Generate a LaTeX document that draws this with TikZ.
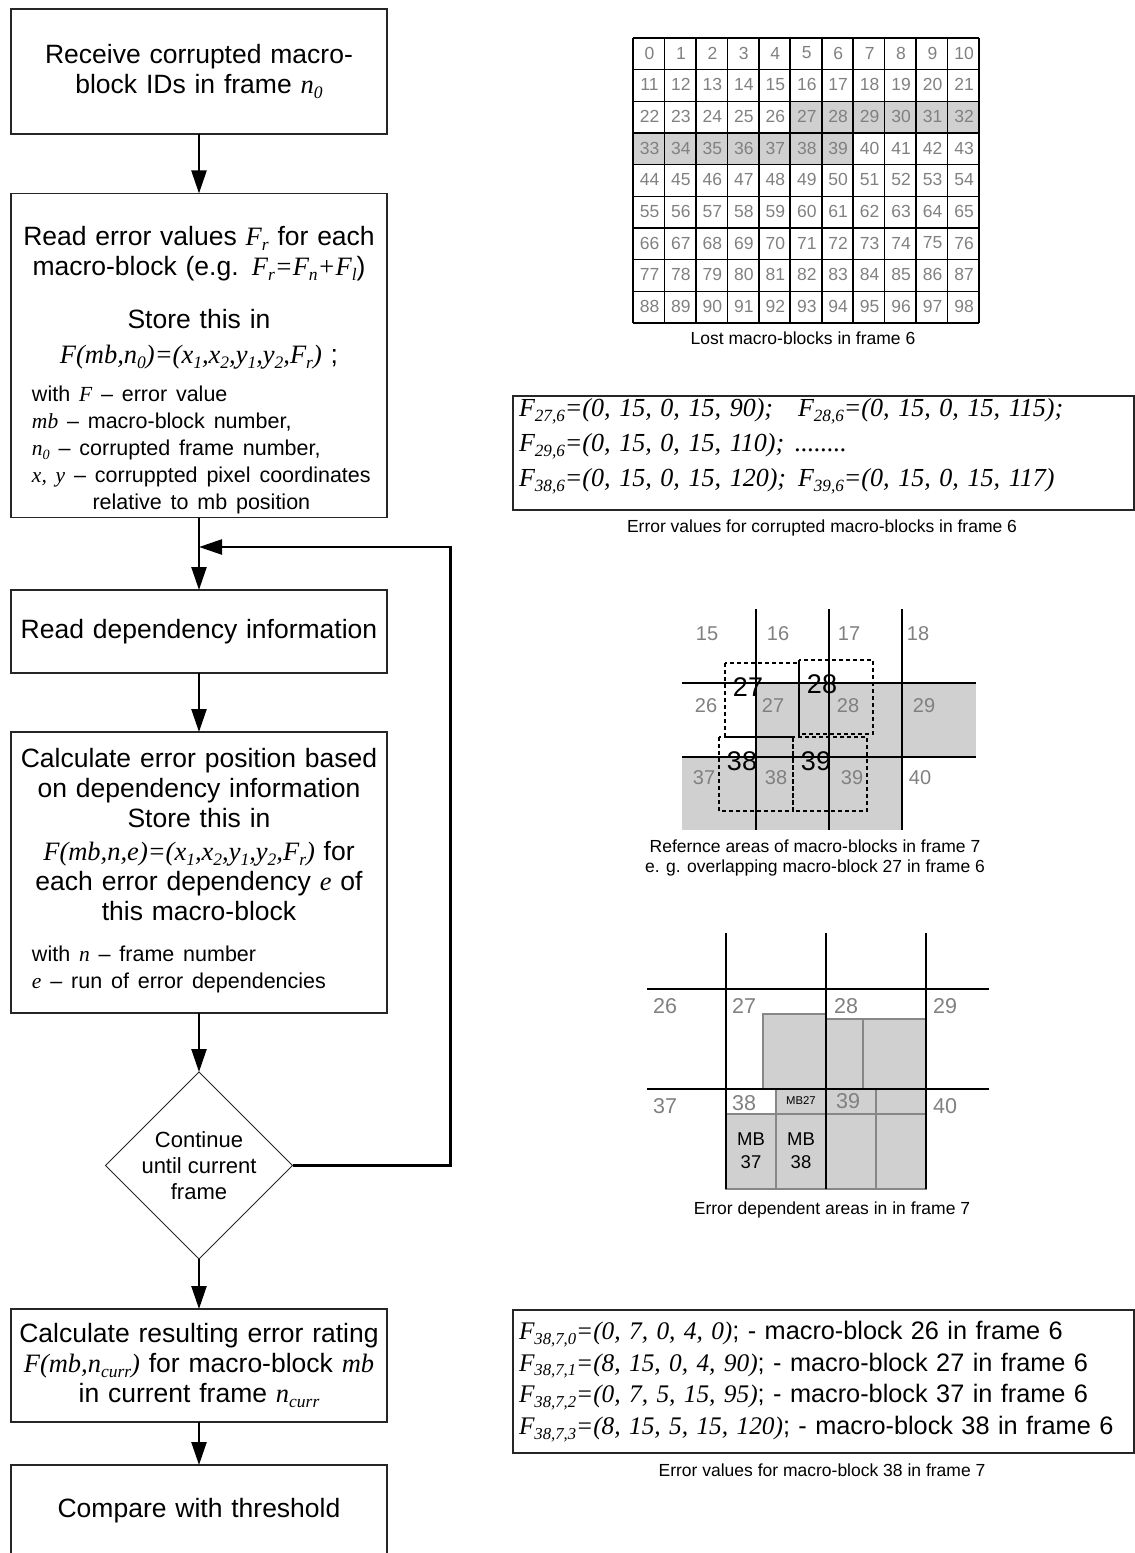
\documentclass[tikz,border=0pt]{standalone}
\usepackage{graphicx}
\usepackage{fontspec}
\setmainfont{Liberation Sans}
\newfontfamily\tms{Liberation Serif}
\usetikzlibrary{arrows.meta,shapes.geometric}
\definecolor{cellgray}{RGB}{208,208,208}
\definecolor{numgray}{RGB}{128,128,128}
\definecolor{edgegray}{RGB}{135,135,135}
\newcommand{\mvar}[1]{{\tms\itshape #1}}
\newcommand{\msub}[1]{\raisebox{-0.18em}{\scalebox{0.66}{#1}}}

\begin{document}
\begin{tikzpicture}[x=1pt, y=-1pt,
    box/.style={draw=black!85, line width=1.1pt, fill=white, minimum width=376pt, text width=360pt, align=center, inner sep=0pt, outer sep=0pt, font=\fontsize{26.5}{30}\selectfont},
    dec/.style={diamond, aspect=1, draw=black!85, line width=0.9pt, minimum width=187pt, minimum height=187pt, inner sep=0pt, outer sep=0pt, align=center, font=\fontsize{22}{26}\selectfont},
    arr/.style={line width=2.4pt, -{Triangle[length=23pt,width=15pt]}},
    gl/.style={line width=1.6pt, black},
    num/.style={text=numgray, font=\fontsize{17.5}{20}\selectfont, inner sep=0pt},
    rnum/.style={text=numgray, font=\fontsize{20}{22}\selectfont, inner sep=0pt},
    enum/.style={text=numgray, font=\fontsize{21.5}{24}\selectfont, inner sep=0pt},
    blab/.style={font=\fontsize{27}{30}\selectfont, inner sep=0pt},
    mbl/.style={align=center, font=\fontsize{18.5}{23}\selectfont, inner sep=0pt},
    dbox/.style={line width=1.3pt, dash pattern=on 4pt off 3pt},
    ebox/.style={draw=edgegray, fill=cellgray, line width=1.4pt},
    capt/.style={align=center, font=\fontsize{17.5}{20.5}\selectfont, inner sep=0pt},
    fbox/.style={draw=black!85, line width=1.1pt, anchor=north west, inner xsep=6pt, inner ysep=0pt, outer sep=0pt, text width=609pt, align=left, minimum height=#1, font=\fontsize{26}{35}\selectfont}]
  \useasboundingbox (0,0) rectangle (1135,1553);

  % flow chart
  \node[box, minimum height=125pt] (rcv) at (199,71.5) {Receive corrupted macro-\\block IDs in frame \mvar{n\msub{0}}};
  \node[box, minimum height=319pt] (rdv) at (199,355.5) {\rule{0pt}{52pt}Read error values \mvar{F\msub{r}} for each\\
    macro-block (e.g. \mvar{F\msub{r}=F\msub{n}+F\msub{l}})\\[23pt]
    Store this in\\[5pt]
    \mvar{F(mb,n\msub{0})=(x\msub{1},x\msub{2},y\msub{1},y\msub{2},F\msub{r})} ;\\[8pt]
    \makebox[334pt][l]{\fontsize{21.5}{27}\selectfont\begin{tabular}[t]{@{}l@{}}
      with \mvar{F} -- error value\\
      \mvar{mb} -- macro-block number,\\
      \mvar{n\msub{0}} -- corrupted frame number,\\
      \mvar{x, y} -- corruppted pixel coordinates\\
      \multicolumn{1}{@{}c@{}}{relative to mb position}
    \end{tabular}}};
  \node[box, minimum height=83pt] (rdd) at (199,631.5) {Read dependency information};
  \node[box, minimum height=281pt] (cep) at (199,872.5) {Calculate error position based\\
    on dependency information\\
    Store this in\\[3pt]
    \mvar{F(mb,n,e)=(x\msub{1},x\msub{2},y\msub{1},y\msub{2},F\msub{r})} for\\
    each error dependency \mvar{e} of\\
    this macro-block\\[11pt]
    \makebox[334pt][l]{\fontsize{21.5}{27}\selectfont\begin{tabular}[t]{@{}l@{}}
      with \mvar{n} -- frame number\\
      \mvar{e} -- run of error dependencies
    \end{tabular}}};
  \node[dec] (cnt) at (199,1165.5) {Continue\\until current\\frame};
  \node[box, minimum height=113pt] (crr) at (199,1365.5) {Calculate resulting error rating\\
    \mvar{F(mb,n\msub{curr})} for macro-block \mvar{mb}\\
    in current frame \mvar{n\msub{curr}}};
  \node[box, minimum height=92pt] (cmp) at (199,1511) {Compare with threshold};
  \coordinate (back) at (199,547);

  \draw[arr] (rcv) -- (rdv);
  \draw[arr] (rdv) -- (rdd);
  \draw[arr] (rdd) -- (cep);
  \draw[arr] (cep) -- (cnt);
  \draw[arr] (cnt) -- (crr);
  \draw[arr] (crr) -- (cmp);
  \draw[arr] (cnt.east) -- ++(158,0) |- (back);

  % lost macro-blocks in frame 6
  \fill[cellgray] ({633+5*31.45},{38+2*31.67}) rectangle (979,{38+3*31.67});
  \fill[cellgray] (633,{38+3*31.67}) rectangle ({633+7*31.45},{38+4*31.67});
  \foreach \c in {0,...,11} \draw[gl] ({633+31.45*\c},38) -- ++(0,285);
  \foreach \r in {0,...,9} \draw[gl] (633,{38+31.67*\r}) -- ++(346,0);
  \foreach \r in {0,...,8} \foreach \c in {0,...,10} {
    \pgfmathtruncatemacro{\k}{11*\r+\c}
    \node[num] (m\k) at ({633+31.45*\c+16.5},{38+31.67*\r+15}) {\k};
  }
  \node[capt] (lostcap) at (803,338) {Lost macro-blocks in frame 6};

  % error values frame 6
  \node[fbox=114pt] (ev6) at (513,396) {\makebox[279pt][l]{\mvar{F\msub{27,6}=(0, 15, 0, 15, 90);}}\mvar{F\msub{28,6}=(0, 15, 0, 15, 115);}\\
    \makebox[276pt][l]{\mvar{F\msub{29,6}=(0, 15, 0, 15, 110);}}\mvar{........}\\
    \makebox[279pt][l]{\mvar{F\msub{38,6}=(0, 15, 0, 15, 120);}}\mvar{F\msub{39,6}=(0, 15, 0, 15, 117)}\rule[-21pt]{0pt}{21pt}};
  \node[capt] (ev6cap) at (822,528) {Error values for corrupted macro-blocks in frame 6};

  % reference areas in frame 7
  \fill[cellgray] (756,683) rectangle (976,757);
  \fill[cellgray] (682,757) rectangle (902,830);
  \foreach \x in {756,829,902} \draw[gl] (\x,609) -- (\x,830);
  \foreach \y in {683,757} \draw[gl] (682,\y) -- (976,\y);
  \foreach \t/\x/\y in {15/707/634, 16/778/634, 17/849/634, 18/918/634,
      26/706/706, 27/773/706, 28/848/706, 29/924/706,
      37/704/778, 38/776/778, 39/852/778, 40/920/778}
    \node[rnum] (r\t) at (\x,\y) {\t};
  \foreach \t/\x/\y in {27/725/663, 28/799/660, 38/719/737, 39/793/737} {
    \draw[dbox] (\x,\y) rectangle ++(74,74);
    \node[blab] (d\t) at (\x+23,\y+24) {\t};
  }
  \node[capt] (refcap) at (815,858) {Refernce areas of macro-blocks in frame 7\\e. g. overlapping macro-block 27 in frame 6};

  % error dependent areas in frame 7
  \foreach \xa/\ya/\xb/\yb in {763/1014/826/1089, 826/1019/863/1089, 863/1019/926/1089,
      776/1089/826/1114, 826/1089/876/1114, 876/1089/926/1114,
      726/1114/776/1189, 776/1114/826/1189, 826/1114/876/1189, 876/1114/926/1189}
    \draw[ebox] (\xa,\ya) rectangle (\xb,\yb);
  \foreach \x in {726,826,926} \draw[gl] (\x,933) -- (\x,1189);
  \foreach \y in {989,1089} \draw[gl] (647,\y) -- (989,\y);
  \foreach \t/\x/\y in {26/665/1006, 27/744/1006, 28/846/1006, 29/945/1006,
      37/665/1106, 38/744/1103, 39/848/1101, 40/945/1106}
    \node[enum] (e\t) at (\x,\y) {\t};
  \node[font=\fontsize{11.3}{13}\selectfont, inner sep=0pt] (mb27) at (801,1101) {MB27};
  \node[mbl] (mb37) at (751,1151) {MB\\37};
  \node[mbl] (mb38) at (801,1151) {MB\\38};
  \node[capt] (depcap) at (832,1210) {Error dependent areas in in frame 7};

  % error values macro-block 38
  \node[fbox=143pt, font=\fontsize{25.3}{31.7}\selectfont] (ev7) at (513,1310) {\mvar{F\msub{38,7,0}=(0, 7, 0, 4, 0)}; - macro-block 26 in frame 6\\
    \mvar{F\msub{38,7,1}=(8, 15, 0, 4, 90)}; - macro-block 27 in frame 6\\
    \mvar{F\msub{38,7,2}=(0, 7, 5, 15, 95)}; - macro-block 37 in frame 6\\
    \mvar{F\msub{38,7,3}=(8, 15, 5, 15, 120)}; - macro-block 38 in frame 6};
  \node[capt] (ev7cap) at (822,1470) {Error values for macro-block 38 in frame 7};
\end{tikzpicture}
\end{document}
